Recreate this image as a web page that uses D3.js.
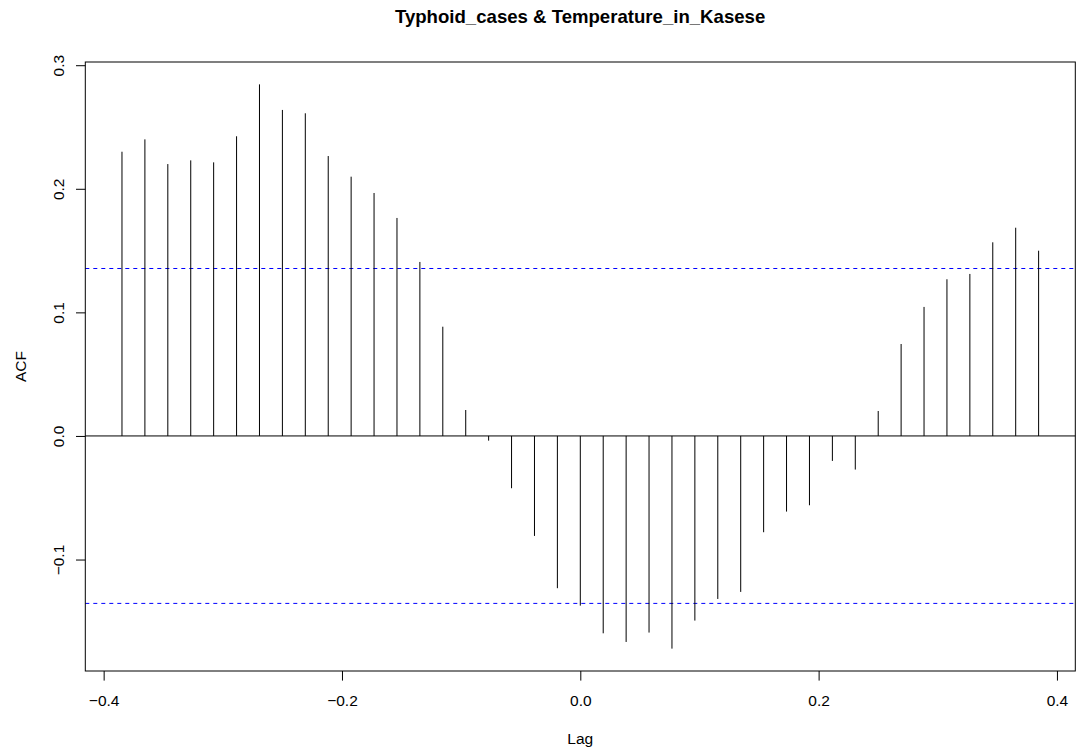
<!DOCTYPE html>
<html>
<head>
<meta charset="utf-8">
<script src="https://cdn.jsdelivr.net/npm/d3@7"></script>
<style>
  html, body { margin: 0; padding: 0; background: #fff; }
  svg { display: block; font-family: "Liberation Sans", Arial, Helvetica, sans-serif; }
</style>
</head>
<body>
<svg id="chart" width="1076" height="754"></svg>
<script>
// ---- data ----
const title = "Typhoid_cases & Temperature_in_Kasese";
const xLabel = "Lag";
const yLabel = "ACF";
const lags = [
  -0.38462, -0.36538, -0.34615, -0.32692, -0.30769, -0.28846, -0.26923, -0.25000,
  -0.23077, -0.21154, -0.19231, -0.17308, -0.15385, -0.13462, -0.11538, -0.09615,
  -0.07692, -0.05769, -0.03846, -0.01923, 0.00000, 0.01923, 0.03846, 0.05769,
  0.07692, 0.09615, 0.11538, 0.13462, 0.15385, 0.17308, 0.19231, 0.21154,
  0.23077, 0.25000, 0.26923, 0.28846, 0.30769, 0.32692, 0.34615, 0.36538, 0.38462
];
const acfValues = [
  0.2300, 0.2400, 0.2200, 0.2230, 0.2214, 0.2425, 0.2845, 0.2638,
  0.2611, 0.2265, 0.2098, 0.1966, 0.1764, 0.1408, 0.0884, 0.0210,
  -0.0038, -0.0423, -0.0809, -0.1232, -0.1373, -0.1597, -0.1667, -0.1591,
  -0.1721, -0.1494, -0.1319, -0.1262, -0.0779, -0.0612, -0.0561, -0.0202,
  -0.0272, 0.0202, 0.0744, 0.1044, 0.1268, 0.1311, 0.1567, 0.1685, 0.1499
];
const confLimits = [0.1355, -0.1355];
const xTicks = [-0.4, -0.2, 0.0, 0.2, 0.4];
const yTicks = [-0.1, 0.0, 0.1, 0.2, 0.3];

// ---- layout ----
const svg = d3.select("#chart");
const pLeft = 85.3, pRight = 1075.3, pTop = 62, pBottom = 671;
const baseFont = 15.5;

const x = d3.scaleLinear().domain([-0.4154, 0.4154]).range([pLeft, pRight]);
const y = d3.scaleLinear().domain([-0.1902, 0.3026]).range([pBottom, pTop]);

// title
svg.append("text")
  .attr("x", (pLeft + pRight) / 2 - 0.2)
  .attr("y", 23.3)
  .attr("text-anchor", "middle")
  .attr("font-weight", "bold")
  .attr("font-size", 18.6)
  .attr("fill", "#000")
  .text(title);

// zero line
svg.append("line")
  .attr("x1", pLeft).attr("x2", pRight)
  .attr("y1", y(0)).attr("y2", y(0))
  .attr("stroke", "#000").attr("stroke-width", 1);

// confidence limits
svg.selectAll("line.ci")
  .data(confLimits)
  .enter().append("line")
  .attr("class", "ci")
  .attr("x1", pLeft).attr("x2", pRight)
  .attr("y1", d => y(d)).attr("y2", d => y(d))
  .attr("stroke", "#0000ff")
  .attr("stroke-width", 1)
  .attr("stroke-dasharray", "4,4");

// bars (type = "h")
svg.selectAll("line.bar")
  .data(lags.map((l, i) => ({ lag: l, v: acfValues[i] })))
  .enter().append("line")
  .attr("class", "bar")
  .attr("x1", d => x(d.lag)).attr("x2", d => x(d.lag))
  .attr("y1", y(0)).attr("y2", d => y(d.v))
  .attr("stroke", "#000").attr("stroke-width", 1);

// box
svg.append("rect")
  .attr("x", pLeft).attr("y", pTop)
  .attr("width", pRight - pLeft).attr("height", pBottom - pTop)
  .attr("fill", "none").attr("stroke", "#000").attr("stroke-width", 1);

// x axis
const fmt = d3.format(".1f");
const xAxis = svg.append("g")
  .attr("transform", `translate(0,${pBottom})`)
  .call(d3.axisBottom(x).tickValues(xTicks).tickSize(9.6).tickFormat(fmt));
xAxis.select(".domain").remove();
xAxis.selectAll(".tick line").attr("stroke", "#000");
xAxis.selectAll(".tick text")
  .attr("y", 35).attr("dy", 0)
  .attr("font-size", baseFont)
  .attr("font-family", "Liberation Sans, Arial, sans-serif")
  .attr("fill", "#000");

// y axis
const yAxis = svg.append("g")
  .attr("transform", `translate(${pLeft},0)`)
  .call(d3.axisLeft(y).tickValues(yTicks).tickSize(9.3).tickFormat(fmt));
yAxis.select(".domain").remove();
yAxis.selectAll(".tick line").attr("stroke", "#000");
yAxis.selectAll(".tick text")
  .attr("transform", "rotate(-90)")
  .attr("x", 0).attr("y", -21.3).attr("dy", 0)
  .attr("text-anchor", "middle")
  .attr("font-size", baseFont)
  .attr("font-family", "Liberation Sans, Arial, sans-serif")
  .attr("fill", "#000");

// axis labels
svg.append("text")
  .attr("x", (pLeft + pRight) / 2)
  .attr("y", 744)
  .attr("text-anchor", "middle")
  .attr("font-size", baseFont)
  .attr("fill", "#000")
  .text(xLabel);

svg.append("text")
  .attr("transform", `translate(26,${(pTop + pBottom) / 2}) rotate(-90)`)
  .attr("text-anchor", "middle")
  .attr("font-size", baseFont)
  .attr("fill", "#000")
  .text(yLabel);
</script>
</body>
</html>
